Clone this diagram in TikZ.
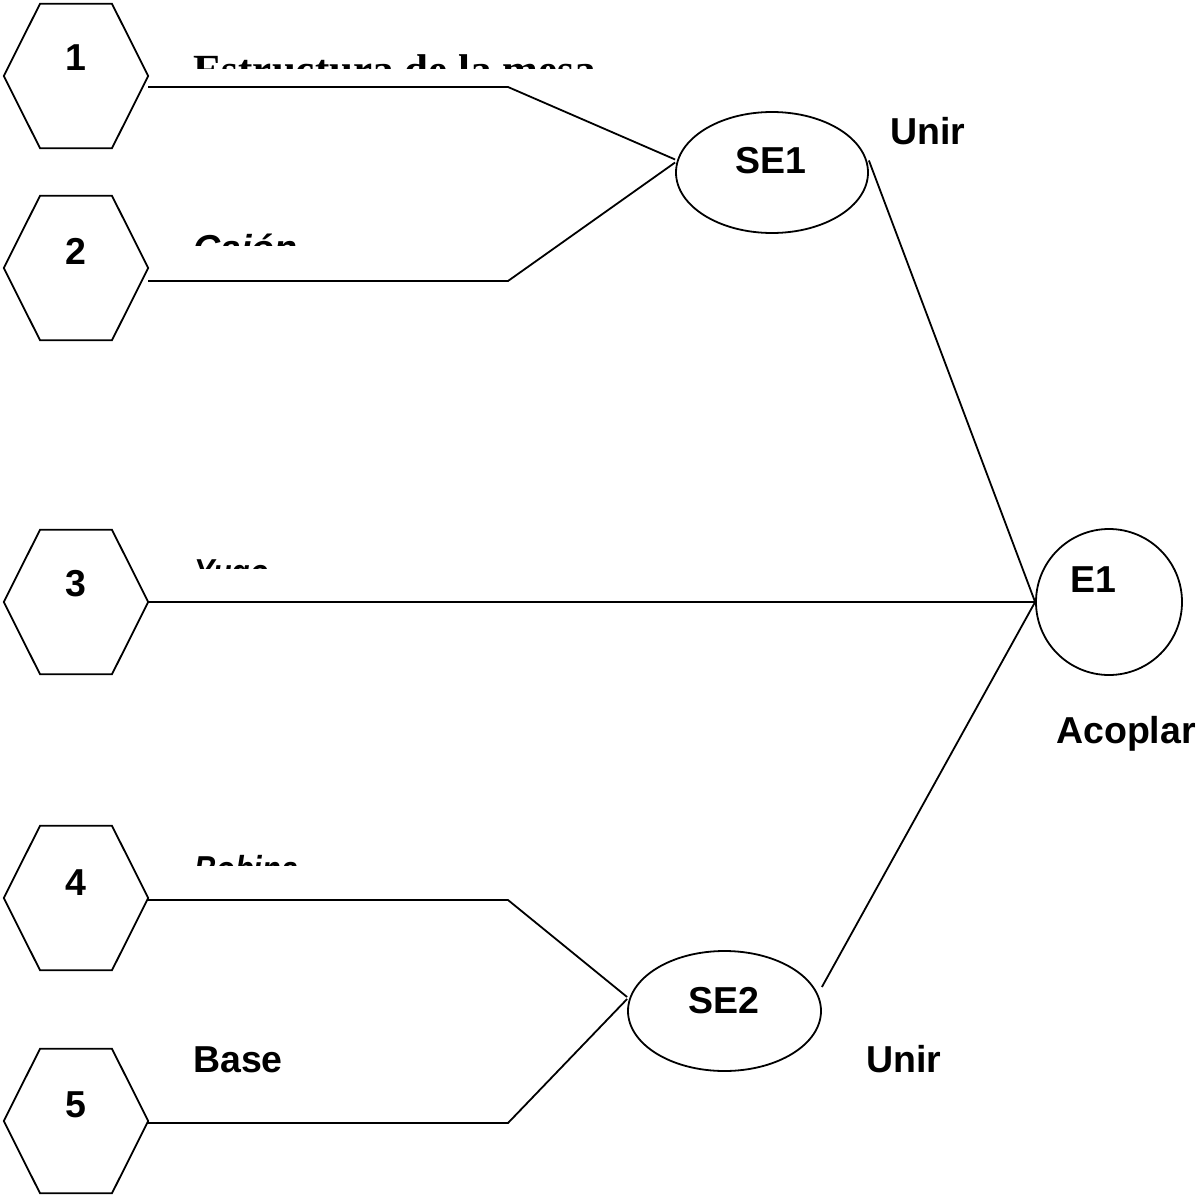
\documentclass[tikz,border=0pt]{standalone}
\usepackage{fontspec}
\setmainfont{Liberation Sans}
\newfontfamily\titleserif{Liberation Serif}
\usetikzlibrary{shapes.geometric}

\tikzset{
  edge/.style={draw=black, line width=1.8pt},
  hexbox/.style={minimum width=144pt, minimum height=144pt, inner sep=0pt},
  ovalbox/.style={ellipse, draw=black, line width=1.8pt, inner sep=0pt},
  roundbox/.style={circle, draw=black, line width=1.8pt, inner sep=0pt, minimum size=146pt},
  txt/.style={inner sep=0pt, font=\fontsize{37.5}{44}\selectfont\bfseries},
  itxt/.style={inner sep=0pt, font=\fontsize{37.5}{44}\selectfont\bfseries\itshape},
  stxt/.style={inner sep=0pt, font=\fontsize{43}{50}\titleserif\bfseries},
}

\begin{document}
\begin{tikzpicture}[x=1pt, y=-1pt]
\useasboundingbox (0,0) rectangle (1195,1196);
\fill[white] (0,0) rectangle (1195,1196);

% component hexagons with their numbers
\foreach \n/\y/\b in {1/76/71, 2/268/264, 3/602/596, 4/898/895, 5/1121/1117} {
  \node[hexbox] (h\n) at (76,\y) {};
  \draw[edge, line join=miter]
    ([xshift=-36pt]h\n.north) -- ([xshift=36pt]h\n.north) -- (h\n.east)
    -- ([xshift=36pt]h\n.south) -- ([xshift=-36pt]h\n.south) -- (h\n.west) -- cycle;
  \node[txt, anchor=base] (n\n) at (75.5,\b) {\n};
}

% subassemblies and final assembly
\node[ovalbox, minimum width=192pt, minimum height=121pt] (se1) at (772,172.5) {};
\node[txt, anchor=base] (se1t) at (771,173) {SE1};
\node[ovalbox, minimum width=193pt, minimum height=120pt] (se2) at (724.5,1011) {};
\node[txt, anchor=base] (se2t) at (724,1013) {SE2};
\node[roundbox] (e1) at (1109,602) {};
\node[txt, anchor=base] (e1t) at (1093,592) {E1};

% operation labels
\node[txt, anchor=base west] (op1) at (890,145) {Unir};
\node[txt, anchor=base west] (op2) at (866,1072) {Unir};
\node[txt, anchor=base west] (op3) at (1056,743) {Acoplar};
\node[txt, anchor=base west] (p5) at (193,1072) {Base};

% part names, cut off at their top half
\begin{scope}
  \clip (180,40) rectangle (640,69);
  \node[stxt, anchor=base west] (p1) at (193,84.5) {Estructura de la mesa};
\end{scope}
\begin{scope}
  \clip (180,220) rectangle (400,245);
  \node[itxt, anchor=base west] (p2) at (193,261) {Cajón};
\end{scope}
\begin{scope}
  \clip (180,540) rectangle (400,568);
  \node[itxt, anchor=base west] (p3) at (194,585) {\scalebox{0.81}[1]{Yugo}};
\end{scope}
\begin{scope}
  \clip (180,835) rectangle (400,865);
  \node[itxt, anchor=base west] (p4) at (194,882) {\scalebox{0.82}[1]{Bobina}};
\end{scope}

% bend points of the feeder lines
\coordinate (k1) at (508,87);
\coordinate (k2) at (508,281);
\coordinate (k4) at (508,900);
\coordinate (k5) at (508,1123);

% connectors
\draw[edge] ([yshift=-11pt]h1.east) -- (k1) -- ([yshift=13pt]se1.west);
\draw[edge] ([yshift=-13pt]h2.east) -- (k2) -- ([yshift=10pt]se1.west);
\draw[edge] ([yshift=12pt]se1.east) -- (e1.west);
\draw[edge] (h3.east) -- (e1.west);
\draw[edge] ([yshift=-2pt]h4.east) -- (k4) -- ([yshift=14pt]se2.west);
\draw[edge] ([yshift=-2pt]h5.east) -- (k5) -- ([yshift=12pt]se2.west);
\draw[edge] ([yshift=24pt]se2.east) -- (e1.west);
\end{tikzpicture}
\end{document}
